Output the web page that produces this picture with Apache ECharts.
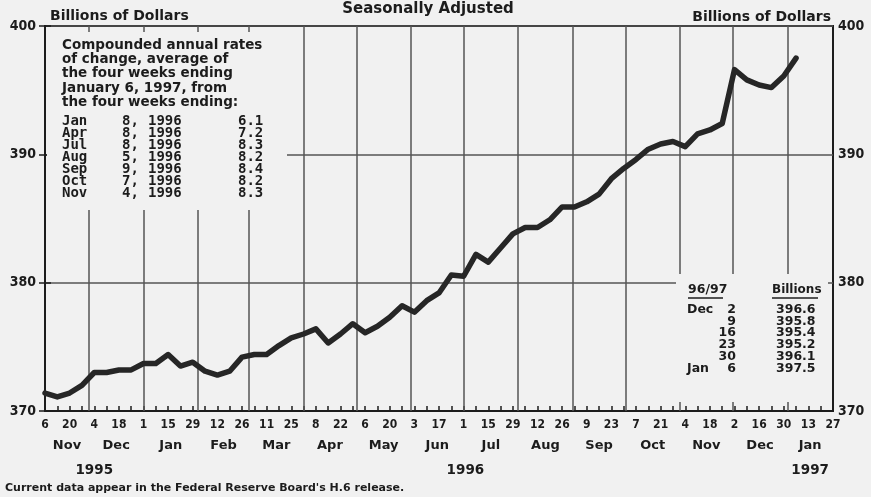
<!DOCTYPE html>
<html>
<head>
<meta charset="utf-8">
<script src="https://cdn.jsdelivr.net/npm/echarts@6/dist/echarts.min.js"></script>
<style>
html,body{margin:0;padding:0;background:#f1f1f1;}
#c{width:871px;height:497px;}
</style>
</head>
<body>
<div id="c"></div>
<script>
// ---- data ----
const startDate = [1995, 10, 6]; // Nov 6, 1995 (first weekly observation)
const weeklyValues = [
  371.4, 371.1, 371.4, 372.0, 373.0, 373.0, 373.2, 373.2, 373.7, 373.7,
  374.4, 373.5, 373.8, 373.1, 372.8, 373.1, 374.2, 374.4, 374.4, 375.1,
  375.7, 376.0, 376.4, 375.3, 376.0, 376.8, 376.1, 376.6, 377.3, 378.2,
  377.7, 378.6, 379.2, 380.6, 380.5, 382.2, 381.6, 382.7, 383.8, 384.3,
  384.3, 384.9, 385.9, 385.9, 386.3, 386.9, 388.1, 388.9, 389.6, 390.4,
  390.8, 391.0, 390.6, 391.6, 391.9, 392.4, 396.6, 395.8, 395.4, 395.2,
  396.1, 397.5
];
const dayTickLabels = ['6','20','4','18','1','15','29','12','26','11','25','8','22','6','20','3','17',
  '1','15','29','12','26','9','23','7','21','4','18','2','16','30','13','27'];
const monthLabels = ['Nov','Dec','Jan','Feb','Mar','Apr','May','Jun','Jul','Aug','Sep','Oct','Nov','Dec','Jan'];
const monthStartDates = [[1995,10,1],[1995,11,1],[1996,0,1],[1996,1,1],[1996,2,1],[1996,3,1],[1996,4,1],
  [1996,5,1],[1996,6,1],[1996,7,1],[1996,8,1],[1996,9,1],[1996,10,1],[1996,11,1],[1997,0,1],[1997,1,1]];
const yearLabels = ['1995','1996','1997'];
const yearStartDates = [[1995,0,1],[1996,0,1],[1997,0,1],[1998,0,1]];
const yTicks = [370, 380, 390, 400];
const rateRows = [
  ['Jan','8,','1996','6.1'],
  ['Apr','8,','1996','7.2'],
  ['Jul','8,','1996','8.3'],
  ['Aug','5,','1996','8.2'],
  ['Sep','9,','1996','8.4'],
  ['Oct','7,','1996','8.2'],
  ['Nov','4,','1996','8.3']
];
const recentMonths = ['Dec','','','','','Jan'];
const recentDays = ['2','9','16','23','30','6'];
const recentValues = ['396.6','395.8','395.4','395.2','396.1','397.5'];

// ---- derived ----
const DAY = 86400000;
const t0 = Date.UTC(startDate[0], startDate[1], startDate[2]);
const dayOf = d => Math.round((Date.UTC(d[0], d[1], d[2]) - t0) / DAY);
const xMin = 0, xMax = (dayTickLabels.length - 1) * 14;
const seriesData = weeklyValues.map((v, i) => [i * 7, v]);
const weekTicks = []; for (let d = xMin; d <= xMax; d += 7) weekTicks.push(d);
const labelDays = dayTickLabels.map((_, i) => i * 14);
const dayLabelMap = {}; labelDays.forEach((d, i) => dayLabelMap[d] = dayTickLabels[i]);
const monthBounds = monthStartDates.map(dayOf);
const monthGrid = monthBounds.filter(d => d > xMin && d < xMax);
const monthPos = [], monthMap = {};
monthLabels.forEach((m, i) => {
  const a = Math.max(xMin, monthBounds[i]), b = Math.min(xMax, monthBounds[i + 1]);
  const c = (a + b) / 2; monthPos.push(c); monthMap[c] = m;
});
const yearBounds = yearStartDates.map(dayOf);
const yearPos = [], yearMap = {};
yearLabels.forEach((y, i) => {
  const a = Math.max(xMin, yearBounds[i]), b = Math.min(xMax, yearBounds[i + 1]);
  const c = (a + b) / 2; yearPos.push(c); yearMap[c] = y;
});

const INK = '#1c1c1c';
const GRIDC = '#555555';
const BG = '#f1f1f1';
const FONT = 'DejaVu Sans';
const NUMFONT = 'DejaVu Sans Condensed, DejaVu Sans';

const baseX = {type: 'value', min: xMin, max: xMax, gridIndex: 0, position: 'bottom'};

const chart = echarts.init(document.getElementById('c'), null, {renderer: 'canvas'});

const graphics = [];
// left annotation box
graphics.push({type: 'rect', z: 10, shape: {x: 47, y: 32, width: 240, height: 178}, style: {fill: BG}});
const para = ['Compounded annual rates', 'of change, average of', 'the four weeks ending',
  'January 6, 1997, from', 'the four weeks ending:'];
para.forEach((s, i) => graphics.push({type: 'text', z: 11, x: 62, y: 45 + i * 14.4,
  style: {text: s, fill: INK, font: 'bold 13.5px ' + FONT, verticalAlign: 'middle'}}));
const colX = [62, 122, 148, 238];
rateRows.forEach((r, i) => r.forEach((s, j) => graphics.push({type: 'text', z: 11, x: colX[j], y: 121 + i * 12.1,
  style: {text: s, fill: INK, font: 'bold 14px DejaVu Sans Mono', verticalAlign: 'middle'}})));
// right annotation box
graphics.push({type: 'rect', z: 10, shape: {x: 676, y: 274, width: 152, height: 128}, style: {fill: BG}});
graphics.push({type: 'text', z: 11, x: 688, y: 290, style: {text: '96/97', fill: INK, font: 'bold 12.5px ' + FONT, verticalAlign: 'middle'}});
graphics.push({type: 'line', z: 11, shape: {x1: 688, y1: 298, x2: 723, y2: 298}, style: {stroke: INK, lineWidth: 1.3}});
graphics.push({type: 'text', z: 11, x: 772, y: 290, style: {text: 'Billions', fill: INK, font: 'bold 12px ' + FONT, verticalAlign: 'middle'}});
graphics.push({type: 'line', z: 11, shape: {x1: 772, y1: 298, x2: 818, y2: 298}, style: {stroke: INK, lineWidth: 1.3}});
recentValues.forEach((v, i) => {
  const y = 309.5 + i * 11.8;
  if (recentMonths[i]) graphics.push({type: 'text', z: 11, x: 687, y, style: {text: recentMonths[i], fill: INK, font: 'bold 12.5px ' + FONT, verticalAlign: 'middle'}});
  graphics.push({type: 'text', z: 11, x: 736, y, style: {text: recentDays[i], fill: INK, font: 'bold 12.5px ' + FONT, align: 'right', verticalAlign: 'middle'}});
  graphics.push({type: 'text', z: 11, x: 776, y, style: {text: v, fill: INK, font: 'bold 12.5px ' + FONT, verticalAlign: 'middle'}});
});
// header / footer texts
graphics.push({type: 'text', x: 50, y: 16, style: {text: 'Billions of Dollars', fill: INK, font: 'bold 14px ' + FONT, verticalAlign: 'middle'}});
graphics.push({type: 'text', x: 428, y: 9, style: {text: 'Seasonally Adjusted', fill: INK, font: 'bold 15px ' + FONT, align: 'center', verticalAlign: 'middle'}});
graphics.push({type: 'text', x: 831, y: 17, style: {text: 'Billions of Dollars', fill: INK, font: 'bold 14px ' + FONT, align: 'right', verticalAlign: 'middle'}});
graphics.push({type: 'text', x: 5, y: 488, style: {text: "Current data appear in the Federal Reserve Board's H.6 release.", fill: INK, font: 'bold 11px ' + FONT, verticalAlign: 'middle'}});

const yLabelStyle = {color: INK, fontFamily: NUMFONT, fontWeight: 'bold', fontSize: 14};

chart.setOption({
  backgroundColor: BG,
  animation: false,
  grid: {left: 45, right: 38, top: 26, bottom: 86, show: true, borderColor: INK, borderWidth: 2, backgroundColor: 'transparent'},
  xAxis: [
    Object.assign({}, baseX, {
      axisLine: {show: true, lineStyle: {color: INK, width: 2}},
      axisTick: {show: true, inside: true, length: 5, customValues: weekTicks, lineStyle: {color: INK, width: 1.5}},
      axisLabel: {show: true, customValues: labelDays, formatter: v => dayLabelMap[v] || '', margin: 8,
        color: INK, fontFamily: NUMFONT, fontWeight: 'bold', fontSize: 12},
      splitLine: {show: false}
    }),
    Object.assign({}, baseX, {
      offset: 24, axisLine: {show: false}, axisTick: {show: false}, splitLine: {show: false},
      axisLabel: {show: true, customValues: monthPos, formatter: v => monthMap[v] || '', margin: 4,
        color: INK, fontFamily: FONT, fontWeight: 'bold', fontSize: 13}
    }),
    Object.assign({}, baseX, {
      offset: 48, axisLine: {show: false}, axisTick: {show: false}, splitLine: {show: false},
      axisLabel: {show: true, customValues: yearPos, formatter: v => yearMap[v] || '', margin: 4,
        color: INK, fontFamily: FONT, fontWeight: 'bold', fontSize: 13.5}
    })
  ],
  yAxis: [
    {type: 'value', min: yTicks[0], max: yTicks[yTicks.length - 1], interval: 10, position: 'left',
      axisLine: {show: true, lineStyle: {color: INK, width: 2}},
      axisTick: {show: true, length: 6, lineStyle: {color: INK, width: 1.5}},
      axisLabel: Object.assign({margin: 9}, yLabelStyle),
      splitLine: {show: true, lineStyle: {color: GRIDC, width: 1.5}}},
    {type: 'value', min: yTicks[0], max: yTicks[yTicks.length - 1], interval: 10, position: 'right',
      axisLine: {show: true, lineStyle: {color: INK, width: 2}},
      axisTick: {show: true, length: 6, lineStyle: {color: INK, width: 1.5}},
      axisLabel: Object.assign({margin: 5}, yLabelStyle),
      splitLine: {show: false}}
  ],
  series: [
    {type: 'line', xAxisIndex: 0, yAxisIndex: 0, data: [], z: 1, silent: true,
      markLine: {silent: true, symbol: ['none', 'none'], label: {show: false},
        lineStyle: {color: GRIDC, width: 1.5, type: 'solid'},
        data: monthGrid.map(d => ({xAxis: d}))}},
    {type: 'line', xAxisIndex: 0, yAxisIndex: 0, data: seriesData, z: 5, showSymbol: false, symbol: 'none',
      lineStyle: {color: '#262626', width: 5.5, cap: 'round', join: 'round'}}
  ],
  graphic: graphics
});
</script>
</body>
</html>
